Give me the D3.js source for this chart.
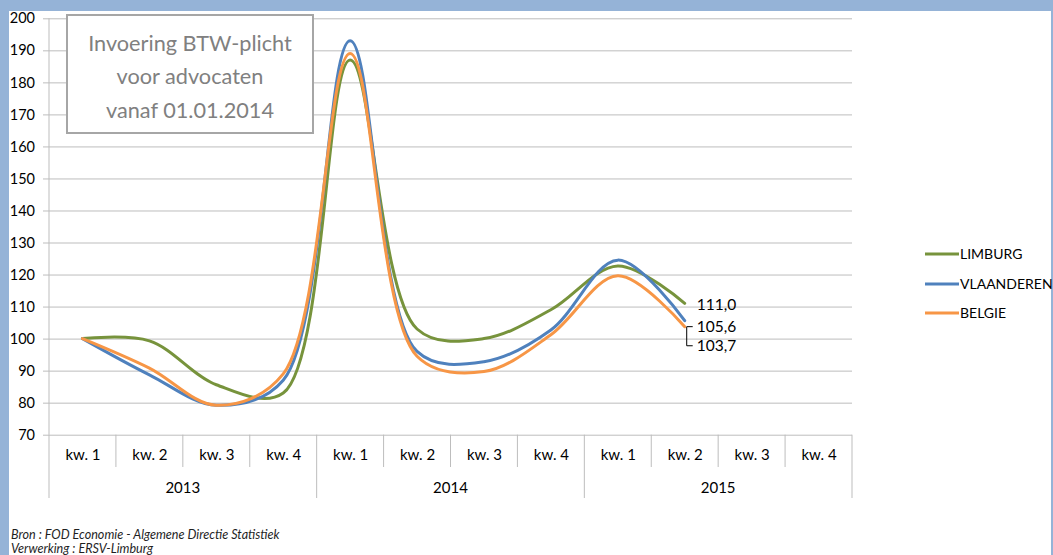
<!DOCTYPE html>
<html>
<head>
<meta charset="utf-8">
<script src="https://cdn.jsdelivr.net/npm/d3@7"></script>
<style>
  html, body { margin: 0; padding: 0; background: #95b3d7; }
  svg { display: block; }
  text { font-family: Lato, "Open Sans", sans-serif; }
</style>
</head>
<body>
<svg id="chart" width="1053" height="555"></svg>
<script>
// ---- data ----
const years = ["2013", "2014", "2015"];
const quarters = ["kw. 1", "kw. 2", "kw. 3", "kw. 4"];
const seriesNames = ["LIMBURG", "VLAANDEREN", "BELGIE"];
const limburg    = [100, 99.3, 85.6, 83.0, 187.0, 103.0, 100.0, 109.0, 122.7, 111.0];
const vlaanderen = [100, 88.7, 79.2, 87.0, 193.0, 96.0, 92.8, 102.7, 124.5, 105.6];
const belgie     = [100, 90.8, 79.2, 89.0, 189.0, 94.5, 89.7, 101.2, 119.6, 103.7];
const yTicks = [70, 80, 90, 100, 110, 120, 130, 140, 150, 160, 170, 180, 190, 200];
const endLabels = ["111,0", "105,6", "103,7"];
const noteLines = ["Invoering BTW-plicht", "voor advocaten", "vanaf 01.01.2014"];
const sourceLines = ["Bron : FOD Economie - Algemene Directie Statistiek", "Verwerking : ERSV-Limburg"];

const colors = ["#77933c", "#4f81bd", "#f79646"];

// ---- layout ----
const svg = d3.select("#chart");
const L = 49, R = 852, T = 18.3, B = 434.7;

svg.append("rect").attr("x", 0).attr("y", 0).attr("width", 1053).attr("height", 555).attr("fill", "#95b3d7");
svg.append("rect").attr("x", 9).attr("y", 11).attr("width", 1042).attr("height", 544).attr("fill", "#ffffff");

const cats = [];
years.forEach(y => quarters.forEach(q => cats.push(y + "|" + q)));

const x = d3.scalePoint().domain(cats).range([L, R]).padding(0.5);
const step = x.step();
const y = d3.scaleLinear().domain([70, 200]).range([B, T]);

// gridlines + y axis
const yAxis = d3.axisLeft(y).tickValues(yTicks).tickSize(-(R - L) - 6).tickPadding(8).tickFormat(d3.format("d"));
const gy = svg.append("g").attr("transform", `translate(${L},0)`).call(yAxis);
gy.select(".domain").remove();
gy.selectAll(".tick line").attr("stroke", "#bdbdbd").attr("stroke-width", 1).attr("x1", -6).attr("x2", R - L);
gy.selectAll(".tick text").attr("font-size", 14.5).attr("fill", "#000").attr("x", -14).attr("font-family", "Lato, sans-serif");
svg.append("line").attr("x1", L).attr("x2", L).attr("y1", T).attr("y2", B).attr("stroke", "#bdbdbd");

// x axis : category labels
const xAxis = d3.axisBottom(x).tickSize(0).tickPadding(15).tickFormat(d => d.split("|")[1]);
const gx = svg.append("g").attr("transform", `translate(0,${B})`).call(xAxis);
gx.select(".domain").remove();
gx.selectAll(".tick text").attr("font-size", 15).attr("fill", "#000");

// separators
cats.forEach((c, i) => {
  const xs = x(c) - step / 2;
  const isYear = i % 4 === 0;
  svg.append("line").attr("x1", xs).attr("x2", xs).attr("y1", B).attr("y2", isYear ? 498 : 467)
    .attr("stroke", "#bdbdbd");
});
svg.append("line").attr("x1", R).attr("x2", R).attr("y1", B).attr("y2", 498).attr("stroke", "#bdbdbd");

// year labels
years.forEach((yr, i) => {
  const x0 = x(yr + "|kw. 1") - step / 2, x1 = x(yr + "|kw. 4") + step / 2;
  svg.append("text").attr("x", (x0 + x1) / 2).attr("y", 488).attr("dy", "0.35em")
    .attr("text-anchor", "middle").attr("font-size", 15).attr("fill", "#000").text(yr);
});

// lines
const allSeries = [limburg, vlaanderen, belgie];
const line = d3.line().x((d, i) => x(cats[i])).y(d => y(d)).curve(d3.curveCatmullRom.alpha(0.5));
[0, 1, 2].forEach(k => {
  svg.append("path").datum(allSeries[k]).attr("d", line)
    .attr("fill", "none").attr("stroke", colors[k]).attr("stroke-width", 3)
    .attr("stroke-linejoin", "round").attr("stroke-linecap", "round");
});

// end labels
const last = limburg.length - 1;
const xe = x(cats[last]);
const lblX = xe + 12;
const lblY = [y(limburg[last]) + 1, y(vlaanderen[last]) + 6, y(belgie[last]) + 19];
endLabels.forEach((t, k) => {
  svg.append("text").attr("x", lblX).attr("y", lblY[k]).attr("dy", "0.35em")
    .attr("font-size", 15.5).attr("fill", "#000").text(t);
});
// leader lines
svg.append("line").attr("x1", xe + 2).attr("x2", xe + 8).attr("y1", lblY[1]).attr("y2", lblY[1])
  .attr("stroke", "#000").attr("stroke-width", 1);
svg.append("path").attr("d", `M${xe + 2},${y(belgie[last])} V${lblY[2]} H${xe + 8}`)
  .attr("fill", "none").attr("stroke", "#000").attr("stroke-width", 1);

// note box
svg.append("rect").attr("x", 67).attr("y", 15).attr("width", 246).attr("height", 118)
  .attr("fill", "#fff").attr("stroke", "#a6a6a6").attr("stroke-width", 2);
noteLines.forEach((t, i) => {
  svg.append("text").attr("x", 190).attr("y", 43 + i * 33.5).attr("dy", "0.35em")
    .attr("text-anchor", "middle").attr("font-size", 21.7).attr("fill", "#808080").text(t);
});

// legend
seriesNames.forEach((n, k) => {
  const ly = [254, 284, 313][k];
  svg.append("line").attr("x1", 925).attr("x2", 959).attr("y1", ly).attr("y2", ly)
    .attr("stroke", colors[k]).attr("stroke-width", 3);
  svg.append("text").attr("x", 960).attr("y", ly).attr("dy", "0.35em")
    .attr("font-size", 14).attr("fill", "#000").text(n);
});

// source
sourceLines.forEach((t, i) => {
  svg.append("text").attr("x", 11).attr("y", 535 + i * 14).attr("dy", "0.35em")
    .attr("font-size", 12.6).attr("font-style", "italic").attr("fill", "#1f1f1f").text(t);
});
</script>
</body>
</html>
